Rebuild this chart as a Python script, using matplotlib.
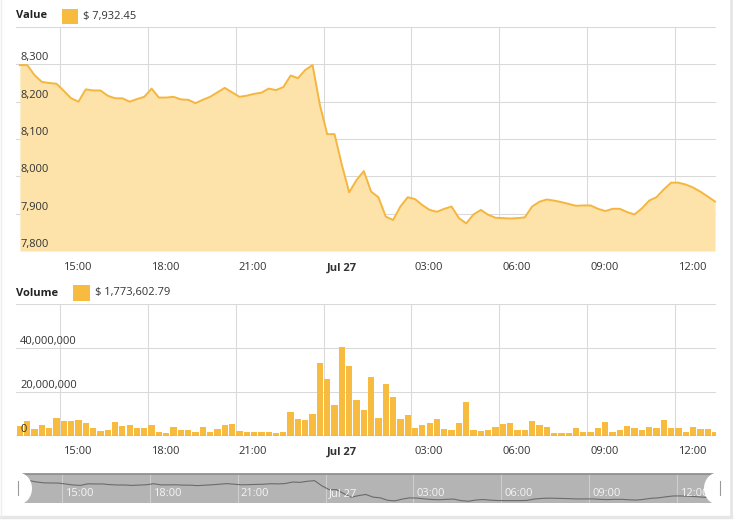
import matplotlib
matplotlib.use("Agg")
import matplotlib.pyplot as plt
import matplotlib.dates as mdates
import pandas as pd
from matplotlib.patches import Rectangle, Ellipse

plt.rcParams['font.family'] = ['Open Sans', 'DejaVu Sans']

# ---------------- data ----------------
times = pd.date_range('2018-07-26 13:37:30', periods=96, freq='15min')

price = [8298, 8298, 8271, 8253, 8250, 8248, 8229, 8209, 8200, 8233,
         8230, 8230, 8216, 8209, 8209, 8200, 8207, 8213, 8235, 8211,
         8211, 8213, 8206, 8205, 8196, 8205, 8213, 8225, 8237, 8225,
         8213, 8216, 8221, 8224, 8235, 8231, 8239, 8270, 8263, 8285,
         8298, 8191, 8113, 8113, 8031, 7957, 7990, 8014, 7959, 7944,
         7892, 7883, 7919, 7944, 7939, 7923, 7910, 7905, 7913, 7919,
         7888, 7874, 7898, 7910, 7897, 7889, 7888, 7887, 7888, 7890,
         7919, 7932, 7938, 7935, 7931, 7926, 7921, 7922, 7922, 7913,
         7907, 7913, 7913, 7904, 7898, 7914, 7935, 7944, 7965, 7983,
         7983, 7978, 7970, 7959, 7946, 7932.45]

volume_millions = [4.6, 6.9, 3.1, 5.0, 3.8, 8.4, 6.9, 6.6, 7.3, 6.1,
                   3.8, 2.4, 2.7, 6.4, 4.4, 5.0, 3.7, 3.8, 5.0, 1.7,
                   1.4, 4.1, 2.6, 2.6, 1.8, 4.1, 1.8, 3.2, 5.0, 5.5,
                   2.3, 1.8, 1.7, 1.7, 1.7, 1.2, 1.7, 11.0, 7.8, 7.3,
                   10.1, 33.4, 26.1, 14.2, 40.3, 31.6, 16.5, 11.9, 27.0, 8.4,
                   23.8, 17.6, 7.8, 9.6, 3.7, 5.0, 6.1, 7.8, 3.2, 2.6,
                   6.0, 15.6, 2.7, 2.3, 2.7, 4.3, 5.5, 6.1, 2.7, 2.7,
                   6.9, 5.0, 4.3, 1.4, 1.4, 1.4, 3.7, 1.8, 1.8, 3.7,
                   6.4, 1.8, 2.7, 4.6, 3.7, 2.7, 4.1, 3.7, 7.3, 3.7,
                   3.7, 1.8, 4.1, 3.2, 3.2, 1.773602]
volume = [v * 1e6 for v in volume_millions]

tick_times = pd.date_range('2018-07-26 15:00', periods=8, freq='3h')
tick_labels = ['15:00', '18:00', '21:00', 'Jul 27', '03:00', '06:00', '09:00', '12:00']

price_ticks = [7800, 7900, 8000, 8100, 8200, 8300]
price_tick_labels = ['7,800', '7,900', '8,000', '8,100', '8,200', '8,300']
volume_ticks = [0, 20e6, 40e6]
volume_tick_labels = ['0', '20,000,000', '40,000,000']

value_legend = '$ 7,932.45'
volume_legend = '$ 1,773,602.79'

# ---------------- style ----------------
W, H = 735, 520
LINE = '#f4b63e'
FILL = '#fde3a9'
BAR = '#f7bb3f'
GRID = '#d9d9d9'
TXT = '#333333'

fig = plt.figure(figsize=(W / 100, H / 100), dpi=100)
fig.patch.set_facecolor('white')


def px_axes(x0, y0, x1, y1, **kw):
    return fig.add_axes([x0 / W, 1 - y1 / H, (x1 - x0) / W, (y1 - y0) / H], **kw)


x_left = times[0] - pd.Timedelta(minutes=8)
x_right = times[-1] + pd.Timedelta(minutes=2)
xl = (mdates.date2num(x_left), mdates.date2num(x_right))


def style_axes(ax):
    for s in ax.spines.values():
        s.set_visible(False)
    ax.tick_params(length=0, labelleft=False, labelbottom=False)
    ax.set_xlim(*xl)
    ax.set_xticks(mdates.date2num(tick_times))
    ax.grid(True, color=GRID, linewidth=0.75)
    ax.set_axisbelow(True)


def x_labels(ax, dy_pt, color=TXT, size=8):
    for t, lab in zip(tick_times, tick_labels):
        ax.annotate(lab, xy=(mdates.date2num(t), 0), xycoords=('data', 'axes fraction'),
                    xytext=(2.2, -dy_pt), textcoords='offset points',
                    ha='left', va='center', fontsize=size, color=color,
                    fontweight='bold' if lab.startswith('Jul') else 'normal',
                    annotation_clip=False)


# ---------- price panel ----------
ax1 = px_axes(16, 27, 716, 251)
style_axes(ax1)
tn = mdates.date2num(times)
ax1.fill_between(tn, price, 7800, color=FILL, linewidth=0, zorder=2)
ax1.plot(tn, price, color=LINE, linewidth=1.4, zorder=3, solid_joinstyle='round')
ax1.set_ylim(7800, 8400)
ax1.set_yticks(list(range(7800, 8401, 100)))
for v, lab in zip(price_ticks, price_tick_labels):
    ax1.annotate(lab, xy=(0, v), xycoords=('axes fraction', 'data'),
                 xytext=(3, 4.6), textcoords='offset points',
                 ha='left', va='center', fontsize=8, color=TXT, zorder=5)
x_labels(ax1, 12.2)

# ---------- volume panel ----------
ax2 = px_axes(16, 304, 716, 436)
style_axes(ax2)
ax2.bar(tn, volume, width=0.25 / 24 * 0.86, color=BAR, linewidth=0, zorder=2)
ax2.set_ylim(0, 60e6)
ax2.set_yticks([0, 20e6, 40e6, 60e6])
ax2.axhline(0, color='#a8a8a8', linewidth=1.0, zorder=4)
for v, lab in zip(volume_ticks, volume_tick_labels):
    ax2.annotate(lab, xy=(0, v), xycoords=('axes fraction', 'data'),
                 xytext=(3, 4.8), textcoords='offset points',
                 ha='left', va='center', fontsize=8, color=TXT, zorder=5)
x_labels(ax2, 11.5)

# ---------- navigator ----------
ax3 = px_axes(18, 474, 718, 503)
for s in ax3.spines.values():
    s.set_visible(False)
ax3.spines['top'].set_visible(True)
ax3.spines['top'].set_color('#8a8a8a')
ax3.spines['top'].set_linewidth(1.2)
ax3.set_facecolor('#b4b4b4')
ax3.tick_params(length=0, labelleft=False, labelbottom=False)
ax3.set_xlim(*xl)
ax3.set_ylim(7838, 8435)
for t in tick_times:
    ax3.axvline(mdates.date2num(t), color='white', alpha=0.35, linewidth=0.8)
ax3.plot(tn, price, color='#6b6b6b', linewidth=0.8)
for t, lab in zip(tick_times, tick_labels):
    ax3.annotate(lab, xy=(mdates.date2num(t), 0), xycoords=('data', 'axes fraction'),
                 xytext=(2.2, 7), textcoords='offset points',
                 ha='left', va='center', fontsize=8, color='#f4f4f4',
                 annotation_clip=False)

# ---------- overlay (legends, handles, frame) ----------
ov = fig.add_axes([0, 0, 1, 1], zorder=10)
ov.set_xlim(0, W)
ov.set_ylim(H, 0)
ov.axis('off')
ov.patch.set_alpha(0)

ov.text(16, 16, 'Value', fontsize=8, fontweight='bold', color='#222222', va='center', ha='left')
ov.add_patch(Rectangle((62, 9), 16.5, 15, color=BAR, linewidth=0))
ov.text(83, 16.5, value_legend, fontsize=8, color=TXT, va='center', ha='left')

ov.text(16, 293, 'Volume', fontsize=8, fontweight='bold', color='#222222', va='center', ha='left')
ov.add_patch(Rectangle((73, 284.5), 17, 16, color=BAR, linewidth=0))
ov.text(95, 293, volume_legend, fontsize=8, color=TXT, va='center', ha='left')

for cx, lx in ((18, 18), (718, 720)):
    ov.add_patch(Ellipse((cx, 488.5), 28, 32, facecolor='white', edgecolor='none'))
    ov.plot([lx, lx], [481, 495], color='#9a9a9a', linewidth=0.8)

ov.plot([731, 731], [0, 517], color='#e6e6e6', linewidth=2)
ov.plot([0, 731], [517, 517], color='#e6e6e6', linewidth=2.5)
ov.plot([0.5, 0.5], [0, 517], color='#eeeeee', linewidth=1)

fig.savefig('out.png', dpi=100, facecolor='white')
